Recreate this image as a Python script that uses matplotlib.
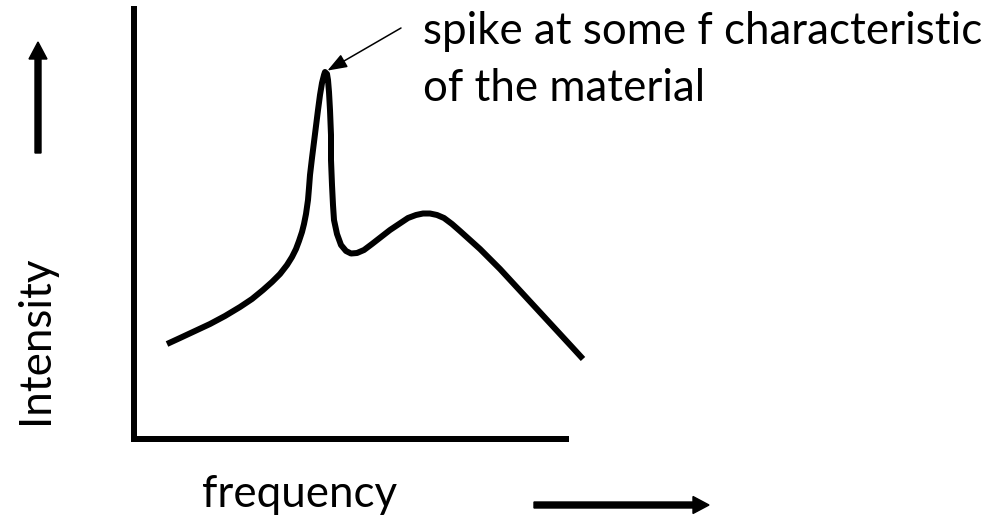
import matplotlib
matplotlib.use("Agg")
import matplotlib.pyplot as plt
from matplotlib.patches import FancyArrow

# ---- data (arbitrary units) ----
frequency = [33, 46, 61, 76, 91, 106, 118, 129, 138, 146,
             153, 158, 162, 165, 168, 170, 172, 174, 175, 176,
             178, 180, 182, 184, 186, 188, 190, 191, 193, 194,
             195, 196, 197, 197, 198, 199, 200, 203, 207, 212,
             217, 223, 230, 238, 247, 256, 265, 274, 282, 289,
             296, 303, 310, 318, 326, 336, 346, 355, 366, 378,
             390, 402, 414, 426, 438, 449]
intensity = [95, 101, 108, 115, 123, 132, 140, 149, 157, 165,
             174, 182, 190, 198, 207, 215, 225, 239, 251, 264,
             281, 297, 313, 329, 344, 356, 364, 367, 365, 359,
             347, 329, 304, 279, 254, 234, 219, 205, 194, 188,
             185.5, 186, 189, 195, 202, 209, 215, 221, 224, 225.5,
             225.5, 224, 221, 215, 208, 199, 190, 181, 170, 157,
             144, 131, 118, 105, 92, 80]
annotation_lines = ["spike at some f characteristic", "of the material"]
xlabel = "frequency"
ylabel = "Intensity"

W, H, DPI = 1005, 517, 100
fig = plt.figure(figsize=(W / DPI, H / DPI), dpi=DPI)
fig.patch.set_facecolor("white")

FONT = "Lato"

# font size fitted so the first annotation line spans ~560 px
probe = fig.text(0, 0, annotation_lines[0], fontsize=20, family=FONT)
fig.canvas.draw()
wpx = probe.get_window_extent().width
probe.remove()
fs = 20 * 560.0 / wpx

def px(x, y):
    return (x / W, 1 - y / H)

ax = fig.add_axes([134 / W, 1 - 439 / H, (566 - 134) / W, (439 - 9) / H])
ax.set_xlim(0, 432)
ax.set_ylim(0, 430)
ax.set_xticks([])
ax.set_yticks([])
for s in ("top", "right"):
    ax.spines[s].set_visible(False)
for s in ("left", "bottom"):
    ax.spines[s].set_linewidth(6 * 72 / DPI)
    ax.spines[s].set_color("black")
    ax.spines[s].set_capstyle("projecting")

ax.plot(frequency, intensity, color="black", lw=6 * 72 / DPI,
        solid_joinstyle="round", solid_capstyle="butt", clip_on=False)

# annotation arrow pointing at the spike
ipk = intensity.index(max(intensity))
ax.annotate("", xy=(frequency[ipk], intensity[ipk]), xycoords="data",
            xytext=(76, 44), textcoords="offset pixels",
            arrowprops=dict(arrowstyle="-|>,head_length=0.6,head_width=0.22",
                            mutation_scale=20, lw=1.1, color="black",
                            shrinkA=0, shrinkB=2))

fig.text(*px(423, 44), annotation_lines[0], fontsize=fs, family=FONT,
         ha="left", va="baseline")
fig.text(*px(423, 101), annotation_lines[1], fontsize=fs, family=FONT,
         ha="left", va="baseline")
fig.text(*px(202, 507), xlabel, fontsize=fs, family=FONT,
         ha="left", va="baseline")
fig.text(*px(48, 340), ylabel, fontsize=fs, family=FONT, rotation=90,
         rotation_mode="anchor", ha="center", va="baseline")

# direction arrows
fig.patches.append(FancyArrow(38, H - 153, 0, 153 - 42, width=6,
                              head_width=18, head_length=17,
                              length_includes_head=True, color="black",
                              transform=None, figure=fig))
fig.patches.append(FancyArrow(534, H - 505, 709 - 534, 0, width=6,
                              head_width=17, head_length=16,
                              length_includes_head=True, color="black",
                              transform=None, figure=fig))

fig.savefig("out.png", dpi=DPI, facecolor="white")
